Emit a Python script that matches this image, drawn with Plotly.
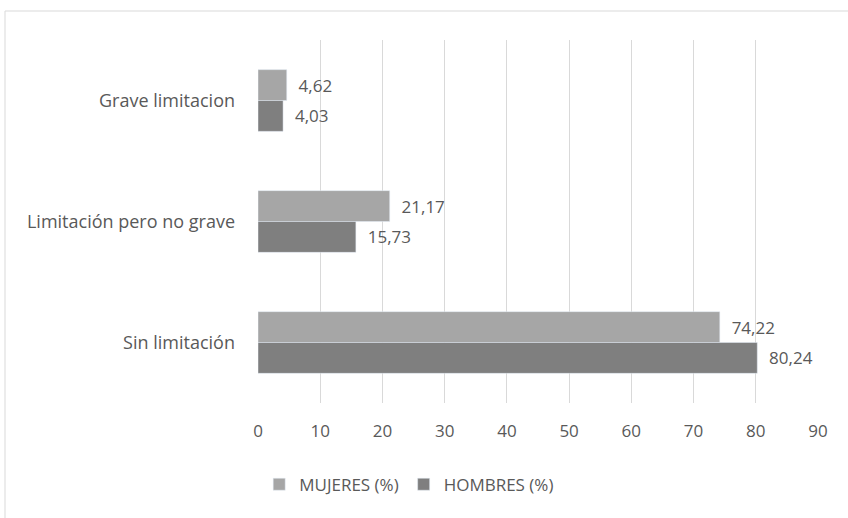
import plotly.graph_objects as go

categories = ["Grave limitacion", "Limitación pero no grave", "Sin limitación"]
mujeres = [4.62, 21.17, 74.22]
hombres = [4.03, 15.73, 80.24]
x_ticks = [0, 10, 20, 30, 40, 50, 60, 70, 80, 90]

text_color = "#595959"
font_family = "Open Sans, Liberation Sans, sans-serif"
pad = "\u00a0\u00a0"

fig = go.Figure()
fig.add_trace(go.Bar(
    y=categories, x=mujeres, name="MUJERES (%)", orientation="h",
    marker=dict(color="#a6a6a6"),
    texttemplate=pad + "%{x:.2f}", textposition="outside",
    textfont=dict(color=text_color, size=17),
    cliponaxis=False,
))
fig.add_trace(go.Bar(
    y=categories, x=hombres, name="HOMBRES (%)", orientation="h",
    marker=dict(color="#7f7f7f"),
    texttemplate=pad + "%{x:.2f}", textposition="outside",
    textfont=dict(color=text_color, size=17),
    cliponaxis=False,
))

W, H = 848, 518
ml, mr, mt, mb = 258, 30, 40, 115
pw, ph = W - ml - mr, H - mt - mb

fig.update_layout(
    width=W, height=H,
    margin=dict(l=ml, r=mr, t=mt, b=mb),
    paper_bgcolor="white", plot_bgcolor="white",
    barmode="group", bargap=0.49, bargroupgap=0,
    separators=",.",
    font=dict(family=font_family, color=text_color, size=17),
    showlegend=True,
    legend=dict(orientation="h", x=0.27, xanchor="center", y=-0.225, yanchor="middle",
                traceorder="normal", font=dict(size=17, color=text_color),
                itemwidth=30),
    xaxis=dict(range=[0, 90], tickvals=x_ticks, showgrid=True, gridcolor="#d9d9d9",
               gridwidth=1, zeroline=False, showline=False, ticks="",
               tickfont=dict(size=17, color=text_color), ticklabelstandoff=16),
    yaxis=dict(autorange="reversed", showgrid=False, zeroline=False, showline=False,
               ticks="", tickfont=dict(size=18, color=text_color), ticklabelstandoff=22),
    shapes=[
        dict(type="line", xref="paper", yref="paper",
             x0=(5 - ml) / pw, x1=(5 - ml) / pw, y0=(mt - 11) / ph + 1, y1=-(H - mt - ph + 5) / ph,
             line=dict(color="#d9d9d9", width=1)),
        dict(type="line", xref="paper", yref="paper",
             x0=(5 - ml) / pw, x1=(W + 5 - ml) / pw, y0=(mt - 11) / ph + 1, y1=(mt - 11) / ph + 1,
             line=dict(color="#d9d9d9", width=1)),
    ],
)

fig.write_html("out.html")
